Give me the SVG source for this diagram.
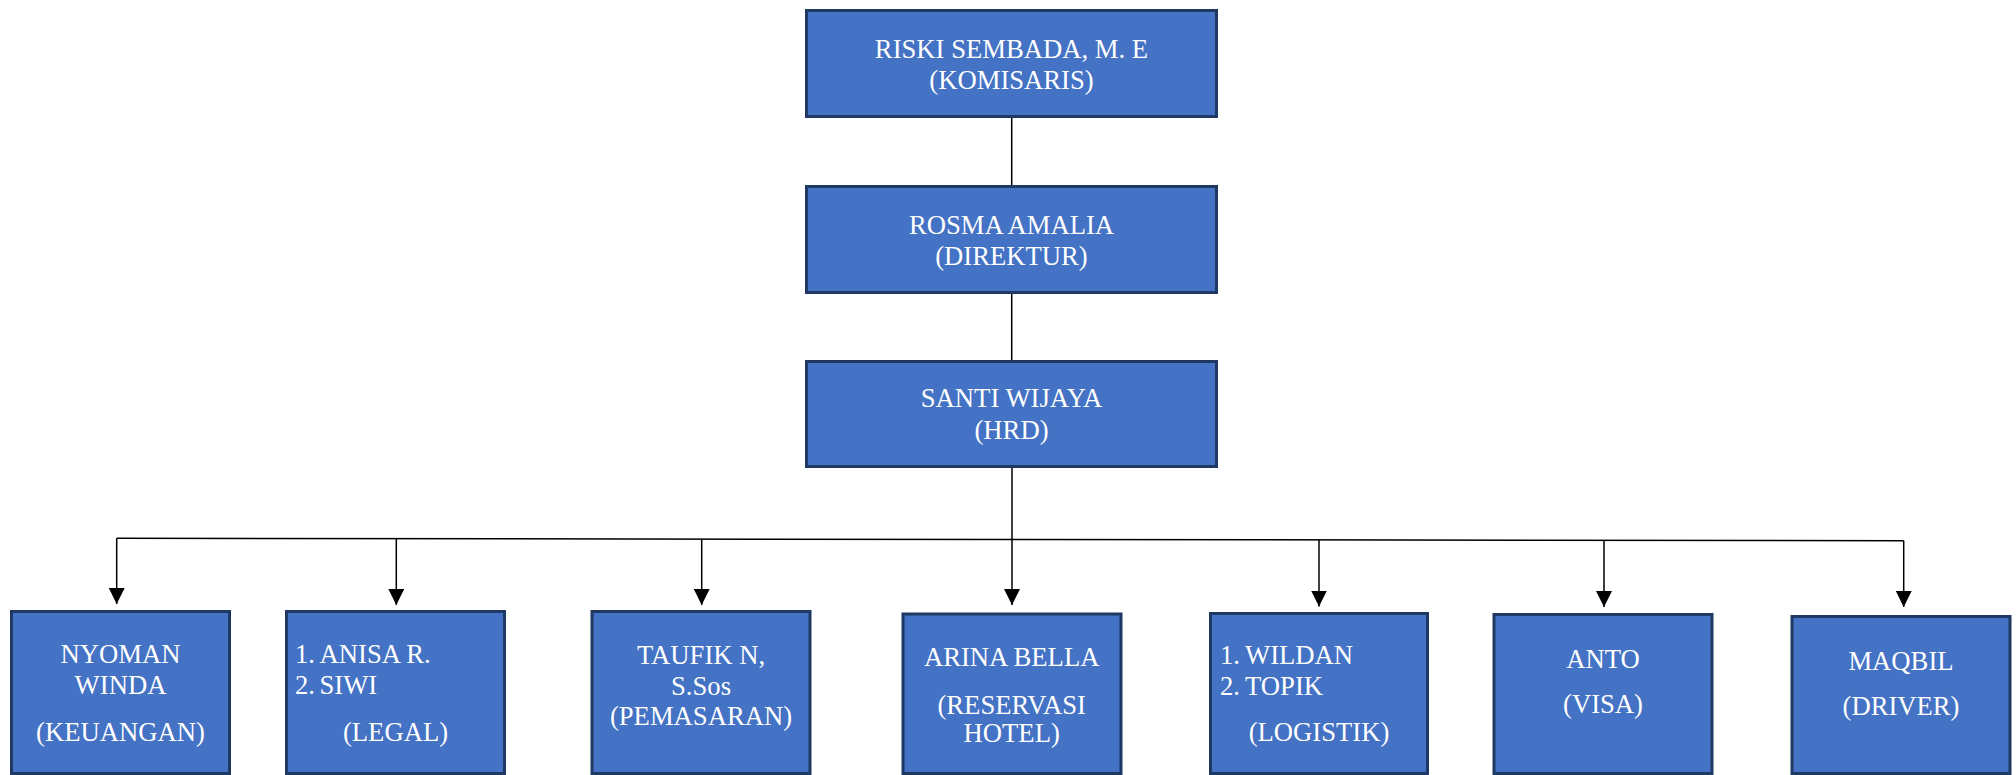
<svg xmlns="http://www.w3.org/2000/svg" width="2016" height="775" viewBox="0 0 2016 775">
<style>
.box{fill:#4472C4;stroke:#1F3864;stroke-width:3}
.t{font-family:"Liberation Serif","Times New Roman",serif;font-size:26.67px;fill:#FFFFFF}
.c{text-anchor:middle}
.ln{stroke:#000;stroke-width:1.5;fill:none}
</style>
<defs>
<marker id="ah" markerUnits="userSpaceOnUse" markerWidth="16" markerHeight="16" refX="16" refY="8" orient="auto" viewBox="0 0 16 16">
<path d="M0,0 L16,8 L0,16 z" fill="#000"/>
</marker>
</defs>
<rect width="2016" height="775" fill="#FFFFFF"/>
<g id="connectors">
<line class="ln" x1="1011.7" y1="118" x2="1011.7" y2="185"/>
<line class="ln" x1="1011.7" y1="294" x2="1011.7" y2="360"/>
<line class="ln" x1="116.7" y1="538.3" x2="1903.7" y2="540.7"/>
<line class="ln" x1="116.7" y1="538.3" x2="116.7" y2="604" marker-end="url(#ah)"/>
<line class="ln" x1="396.3" y1="538.7" x2="396.3" y2="605" marker-end="url(#ah)"/>
<line class="ln" x1="701.7" y1="539.1" x2="701.7" y2="605" marker-end="url(#ah)"/>
<line class="ln" x1="1012" y1="468" x2="1012" y2="605" marker-end="url(#ah)"/>
<line class="ln" x1="1319" y1="539.8" x2="1319" y2="606.5" marker-end="url(#ah)"/>
<line class="ln" x1="1604" y1="540.2" x2="1604" y2="607" marker-end="url(#ah)"/>
<line class="ln" x1="1903.7" y1="540.7" x2="1903.7" y2="607" marker-end="url(#ah)"/>
</g>
<g id="komisaris">
<rect class="box" x="806.5" y="10.5" width="410" height="106"/>
<text class="t c" x="1011.5" y="58">RISKI SEMBADA, M. E</text>
<text class="t c" x="1011.5" y="89">(KOMISARIS)</text>
</g>
<g id="direktur">
<rect class="box" x="806.5" y="186.5" width="410" height="106"/>
<text class="t c" x="1011.5" y="234">ROSMA AMALIA</text>
<text class="t c" x="1011.5" y="265">(DIREKTUR)</text>
</g>
<g id="hrd">
<rect class="box" x="806.5" y="361.5" width="410" height="105"/>
<text class="t c" x="1011.5" y="407">SANTI WIJAYA</text>
<text class="t c" x="1011.5" y="439">(HRD)</text>
</g>
<g id="keuangan">
<rect class="box" x="11.5" y="611.5" width="218" height="162"/>
<text class="t c" x="120.5" y="663">NYOMAN</text>
<text class="t c" x="120.5" y="694">WINDA</text>
<text class="t c" x="120.5" y="741">(KEUANGAN)</text>
</g>
<g id="legal">
<rect class="box" x="286.5" y="611.5" width="218" height="162"/>
<text class="t" x="295" y="663">1.</text>
<text class="t" x="319.5" y="663">ANISA R.</text>
<text class="t" x="295" y="694">2.</text>
<text class="t" x="319.5" y="694">SIWI</text>
<text class="t c" x="395.5" y="741">(LEGAL)</text>
</g>
<g id="pemasaran">
<rect class="box" x="592" y="611.5" width="218" height="162"/>
<text class="t c" x="701" y="664">TAUFIK N,</text>
<text class="t c" x="701" y="695">S.Sos</text>
<text class="t c" x="701" y="725">(PEMASARAN)</text>
</g>
<g id="reservasi">
<rect class="box" x="903" y="614" width="218" height="159.5"/>
<text class="t c" x="1011.7" y="666">ARINA BELLA</text>
<text class="t c" x="1011.7" y="714">(RESERVASI</text>
<text class="t c" x="1011.7" y="742">HOTEL)</text>
</g>
<g id="logistik">
<rect class="box" x="1210.5" y="613.5" width="217" height="160"/>
<text class="t" x="1220" y="664">1.</text>
<text class="t" x="1245" y="664">WILDAN</text>
<text class="t" x="1220" y="695">2.</text>
<text class="t" x="1245" y="695">TOPIK</text>
<text class="t c" x="1319" y="741">(LOGISTIK)</text>
</g>
<g id="visa">
<rect class="box" x="1494" y="614.5" width="218" height="159"/>
<text class="t c" x="1603" y="668">ANTO</text>
<text class="t c" x="1603" y="713">(VISA)</text>
</g>
<g id="driver">
<rect class="box" x="1792" y="616.5" width="218" height="157"/>
<text class="t c" x="1901" y="670">MAQBIL</text>
<text class="t c" x="1901" y="715">(DRIVER)</text>
</g>
</svg>
